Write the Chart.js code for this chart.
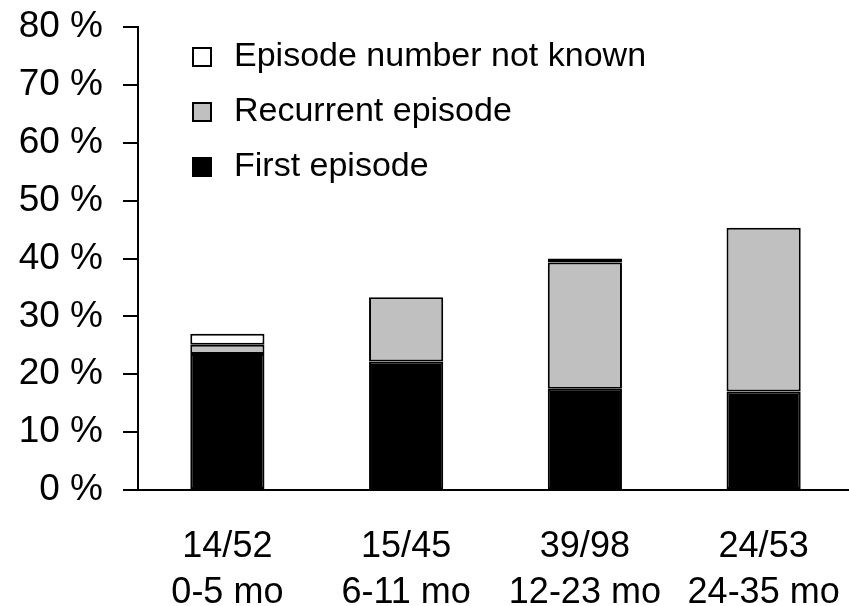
<!DOCTYPE html>
<html>
<head>
<meta charset="utf-8">
<script src="https://cdn.jsdelivr.net/npm/chart.js@4"></script>
<style>
  html, body { margin: 0; padding: 0; background: #fff; overflow: hidden; }
  #wrap { width: 849px; height: 606px; overflow: hidden; }
</style>
</head>
<body>
<div id="wrap"><canvas id="episodesChart" width="853" height="606"></canvas></div>
<script>
Chart.defaults.font.family = '"Liberation Sans", Arial, sans-serif'
Chart.defaults.font.size = 36
Chart.defaults.color = '#000'

// sample sizes and age groups
const counts = ['14/52', '15/45', '39/98', '24/53']
const ages = ['0-5 mo', '6-11 mo', '12-23 mo', '24-35 mo']

// percent of children
const firstEpisode = [23.5, 22.2, 17.5, 17.0]
const recurrentEpisode = [1.6, 11.1, 21.8, 28.3]
const notKnown = [1.9, 0, 0.7, 0]

const yTicks = [0, 10, 20, 30, 40, 50, 60, 70, 80]

const labels = counts.map((c, i) => [c, ages[i]])

// legend drawn inside the plot, last dataset on top
const insideLegend = {
    id: 'insideLegend',
    afterDraw(chart) {
        const ctx = chart.ctx
        const sets = chart.data.datasets.slice().reverse()
        ctx.save()
        ctx.font = '34px "Liberation Sans", Arial, sans-serif'
        ctx.textBaseline = 'middle'
        sets.forEach((ds, i) => {
            const y = 56 + i * 55
            ctx.fillStyle = ds.backgroundColor
            ctx.fillRect(193, y - 8, 18, 18)
            ctx.lineWidth = 2
            ctx.strokeStyle = '#000'
            ctx.strokeRect(193, y - 8, 18, 18)
            ctx.fillStyle = '#000'
            ctx.fillText(ds.label, 234, y + 1)
        })
        ctx.restore()
    }
}

const bar = { borderColor: '#000', borderWidth: 2, borderSkipped: false, categoryPercentage: 1, barPercentage: 0.415 }

const data = {
    labels,
    datasets: [{
        label: 'First episode',
        data: firstEpisode,
        backgroundColor: '#000000',
        ...bar
    }, {
        label: 'Recurrent episode',
        data: recurrentEpisode,
        backgroundColor: '#c0c0c0',
        ...bar
    }, {
        label: 'Episode number not known',
        data: notKnown,
        backgroundColor: '#ffffff',
        ...bar
    }]
}

const options = {
    responsive: false,
    animation: false,
    layout: { padding: { top: 27, right: 0, bottom: 0, left: 0 } },
    plugins: {
        legend: { display: false },
        tooltip: { enabled: false }
    },
    scales: {
        x: {
            stacked: true,
            grid: { drawOnChartArea: false, drawTicks: false, color: 'rgba(0,0,0,0)' },
            border: { display: true, color: '#000', width: 2 },
            ticks: { padding: 34, maxRotation: 0, autoSkip: false, font: { size: 36, lineHeight: 1.28 } },
            afterFit: scale => {
                scale.height = 116
                scale.paddingLeft = 0
                scale.paddingRight = 0
            }
        },
        y: {
            stacked: true,
            min: 0,
            max: 80,
            afterBuildTicks: scale => { scale.ticks = yTicks.map(v => ({ value: v })) },
            grid: { drawOnChartArea: false, tickLength: 15, color: '#000', lineWidth: 2 },
            border: { display: true, color: '#000', width: 2 },
            ticks: { padding: 20, font: { size: 37 }, callback: v => v + ' %' },
            afterFit: scale => {
                scale.width = 138
                scale.paddingTop = 0
                scale.paddingBottom = 0
            }
        }
    }
}

new Chart('episodesChart', { type: 'bar', data, options, plugins: [insideLegend] })
</script>
</body>
</html>
